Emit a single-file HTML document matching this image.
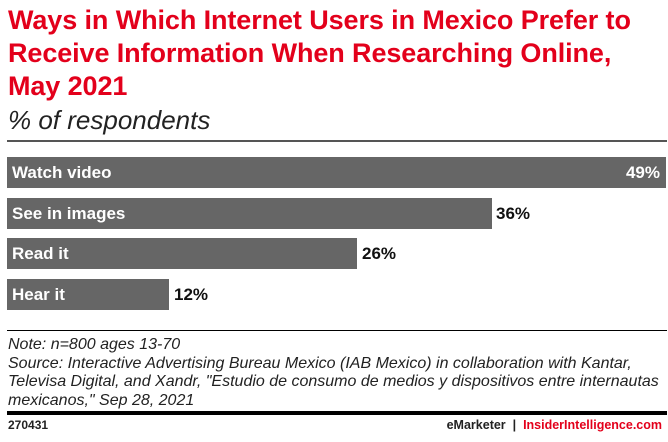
<!DOCTYPE html>
<html><head><style>
body{margin:0;width:668px;height:442px;background:#fff;font-family:"Liberation Sans",sans-serif;position:relative;overflow:hidden}
.t{position:absolute;left:8px;top:4px;color:#e3001b;font-weight:bold;font-size:27px;line-height:33px;letter-spacing:-0.1px}
.s{position:absolute;left:8px;top:105px;font-style:italic;font-size:26px;color:#222}
.bar{position:absolute;left:7px;height:31px;background:#666;color:#fff;font-weight:bold;font-size:17px;line-height:31px;box-sizing:border-box;padding-left:5px}
.v{position:absolute;font-weight:bold;font-size:17px;line-height:31px;color:#111}
.n{position:absolute;left:8px;top:336px;font-style:italic;font-size:16px;line-height:18.5px;color:#222;letter-spacing:0px}
</style></head><body>
<div class="t">Ways in Which Internet Users in Mexico Prefer to<br>Receive Information When Researching Online,<br>May 2021</div>
<div class="s">% of respondents</div>
<div style="position:absolute;left:7px;top:140px;width:660px;height:2px;background:#555"></div>
<div class="bar" style="top:157px;width:659px">Watch video<span style="position:absolute;right:6px">49%</span></div>
<div class="bar" style="top:198px;width:485px">See in images</div><div class="v" style="left:496px;top:198px">36%</div>
<div class="bar" style="top:238px;width:350px">Read it</div><div class="v" style="left:362px;top:238px">26%</div>
<div class="bar" style="top:279px;width:162px">Hear it</div><div class="v" style="left:174px;top:279px">12%</div>
<div style="position:absolute;left:7px;top:330px;width:660px;height:1px;background:#000"></div>
<div class="n">Note: n=800 ages 13-70<br>Source: Interactive Advertising Bureau Mexico (IAB Mexico) in collaboration with Kantar,<br>Televisa Digital, and Xandr, "Estudio de consumo de medios y dispositivos entre internautas<br>mexicanos," Sep 28, 2021</div>
<div style="position:absolute;left:7px;top:411px;width:660px;height:4px;background:#000"></div>
<div style="position:absolute;left:8px;top:418px;font-size:12px;font-weight:bold;color:#222">270431</div>
<div style="position:absolute;right:6px;top:418px;font-size:12.5px;font-weight:bold;color:#222">eMarketer &nbsp;|&nbsp; <span style="color:#e3001b">InsiderIntelligence.com</span></div>
</body></html>
